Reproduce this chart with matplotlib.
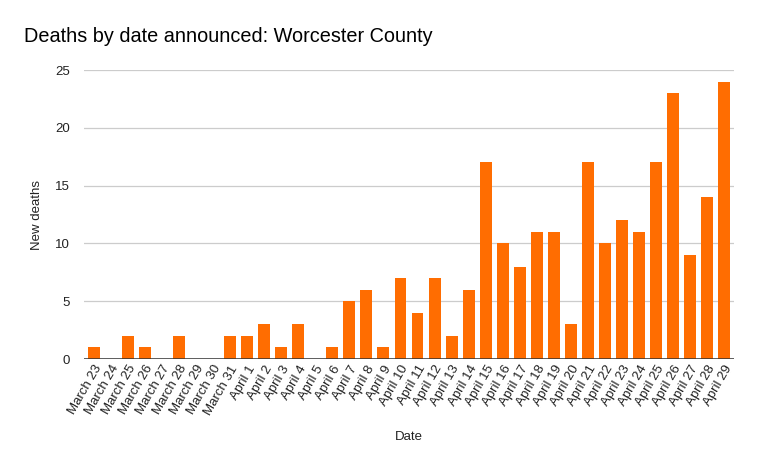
import matplotlib
matplotlib.use('Agg')
import matplotlib.pyplot as plt

plt.rcParams['font.family'] = ['Liberation Sans', 'DejaVu Sans']

dates = ['March 23', 'March 24', 'March 25', 'March 26', 'March 27', 'March 28',
         'March 29', 'March 30', 'March 31'] + ['April %d' % d for d in range(1, 30)]
deaths = [1, 0, 2, 1, 0, 2, 0, 0, 2,
          2, 3, 1, 3, 0, 1, 5, 6, 1, 7, 4, 7, 2, 6, 17, 10, 8, 11, 11, 3,
          17, 10, 12, 11, 17, 23, 9, 14, 24]

fig = plt.figure(figsize=(7.59, 4.69), dpi=100)
ax = fig.add_axes([84 / 759, 1 - 359 / 469, 650 / 759, 289 / 469])

x = range(len(dates))
ax.bar(x, deaths, width=0.7, color='#ff6d01', zorder=3)

ax.set_xlim(-0.58, len(dates) - 0.42)
ax.set_ylim(0, 25)
ax.set_yticks([0, 5, 10, 15, 20, 25])
ax.yaxis.grid(True, color='#cccccc', lw=0.9, zorder=0)
ax.axhline(0, color='#333333', lw=1.1, zorder=4)
for s in ax.spines.values():
    s.set_visible(False)
ax.tick_params(axis='both', length=0, labelsize=9.5, labelcolor='#222222')
ax.tick_params(axis='y', pad=10)
ax.tick_params(axis='x', pad=3)
ax.set_xticks(list(x))
ax.set_xticklabels(dates, rotation=60, ha='right', rotation_mode='anchor')

ax.set_ylabel('New deaths', fontsize=9.5, color='#222222', labelpad=9)
ax.set_xlabel('Date', fontsize=9.5, color='#222222', labelpad=10)
fig.text(24 / 759, 1 - 36 / 469, 'Deaths by date announced: Worcester County',
         fontsize=14.3, color='#000000', va='center', ha='left')

fig.savefig('out.png', dpi=100)
